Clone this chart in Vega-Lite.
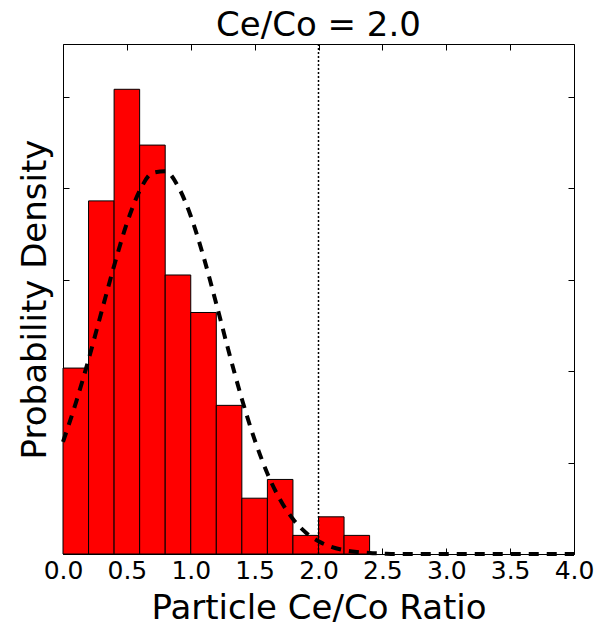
{
  "$schema": "https://vega.github.io/schema/vega-lite/v6.json",
  "autosize": "none",
  "padding": {"left": 63, "top": 44, "right": 33, "bottom": 74},
  "width": 511,
  "height": 510,
  "title": {"text": "Ce/Co = 2.0", "font": "DejaVu Sans", "fontSize": 34, "fontWeight": "normal", "color": "black", "offset": 0},
  "config": {
    "view": {"stroke": "black", "strokeWidth": 1},
    "font": "DejaVu Sans",
    "axis": {"grid": false, "domain": false, "tickColor": "black", "tickWidth": 1, "tickSize": -6, "labelFont": "DejaVu Sans", "labelColor": "black", "labelFlush": false, "labelOverlap": false, "titleFont": "DejaVu Sans", "titleColor": "black", "titleFontWeight": "normal"}
  },
  "datasets": {
    "bars": [
      {"bin_start": 0.0, "bin_end": 0.2, "density": 0.4065},
      {"bin_start": 0.2, "bin_end": 0.4, "density": 0.772},
      {"bin_start": 0.4, "bin_end": 0.6, "density": 1.016},
      {"bin_start": 0.6, "bin_end": 0.8, "density": 0.894},
      {"bin_start": 0.8, "bin_end": 1.0, "density": 0.61},
      {"bin_start": 1.0, "bin_end": 1.2, "density": 0.528},
      {"bin_start": 1.2, "bin_end": 1.4, "density": 0.325},
      {"bin_start": 1.4, "bin_end": 1.6, "density": 0.122},
      {"bin_start": 1.6, "bin_end": 1.8, "density": 0.163},
      {"bin_start": 1.8, "bin_end": 2.0, "density": 0.0407},
      {"bin_start": 2.0, "bin_end": 2.2, "density": 0.0813},
      {"bin_start": 2.2, "bin_end": 2.4, "density": 0.0407}
    ],
    "fit": [
      {"x": 0.0, "density": 0.245},
      {"x": 0.1, "density": 0.33},
      {"x": 0.2, "density": 0.425},
      {"x": 0.3, "density": 0.528},
      {"x": 0.4, "density": 0.63},
      {"x": 0.5, "density": 0.723},
      {"x": 0.6, "density": 0.794},
      {"x": 0.7, "density": 0.833},
      {"x": 0.8, "density": 0.837},
      {"x": 0.9, "density": 0.804},
      {"x": 1.0, "density": 0.739},
      {"x": 1.1, "density": 0.65},
      {"x": 1.2, "density": 0.547},
      {"x": 1.3, "density": 0.44},
      {"x": 1.4, "density": 0.339},
      {"x": 1.5, "density": 0.25},
      {"x": 1.6, "density": 0.176},
      {"x": 1.7, "density": 0.1185},
      {"x": 1.8, "density": 0.0764},
      {"x": 1.9, "density": 0.0472},
      {"x": 2.0, "density": 0.0278},
      {"x": 2.1, "density": 0.0157},
      {"x": 2.2, "density": 0.0085},
      {"x": 2.3, "density": 0.0044},
      {"x": 2.4, "density": 0.0022},
      {"x": 2.5, "density": 0.001},
      {"x": 2.6, "density": 0.0},
      {"x": 2.8, "density": 0.0},
      {"x": 3.0, "density": 0.0},
      {"x": 3.2, "density": 0.0},
      {"x": 3.4, "density": 0.0},
      {"x": 3.6, "density": 0.0},
      {"x": 3.8, "density": 0.0},
      {"x": 4.0, "density": 0.0}
    ],
    "marker": [{"ratio": 2.0}]
  },
  "layer": [
    {
      "data": {"name": "bars"},
      "mark": {"type": "rect", "fill": "#ff0000", "stroke": "black", "strokeWidth": 1},
      "encoding": {
        "x": {"field": "bin_start", "type": "quantitative", "scale": {"domain": [0, 4], "nice": false, "zero": false},
              "axis": {"orient": "bottom", "values": [0, 0.5, 1, 1.5, 2, 2.5, 3, 3.5, 4], "format": ".1f", "labelFontSize": 25, "labelPadding": 10, "title": "Particle Ce/Co Ratio", "titleFontSize": 34, "titlePadding": 8}},
        "x2": {"field": "bin_end"},
        "y": {"field": "density", "type": "quantitative", "scale": {"domain": [0, 1.115], "nice": false},
              "axis": {"orient": "left", "values": [0, 0.2, 0.4, 0.6, 0.8, 1.0], "labels": false, "title": "Probability Density", "titleFontSize": 34, "titlePadding": 10}},
        "y2": {"datum": 0}
      }
    },
    {
      "data": {"name": "fit"},
      "mark": {"type": "line", "color": "black", "strokeWidth": 4, "strokeDash": [10, 8], "interpolate": "monotone"},
      "encoding": {
        "x": {"field": "x", "type": "quantitative",
              "axis": {"orient": "top", "values": [0, 0.5, 1, 1.5, 2, 2.5, 3, 3.5, 4], "labels": false, "title": null}},
        "y": {"field": "density", "type": "quantitative",
              "axis": {"orient": "right", "values": [0, 0.2, 0.4, 0.6, 0.8, 1.0], "labels": false, "title": null}}
      }
    },
    {
      "data": {"name": "marker"},
      "mark": {"type": "rule", "color": "black", "strokeWidth": 1.5, "strokeDash": [2, 2]},
      "encoding": {
        "x": {"field": "ratio", "type": "quantitative", "axis": null}
      }
    }
  ],
  "resolve": {"axis": {"x": "independent", "y": "independent"}}
}
